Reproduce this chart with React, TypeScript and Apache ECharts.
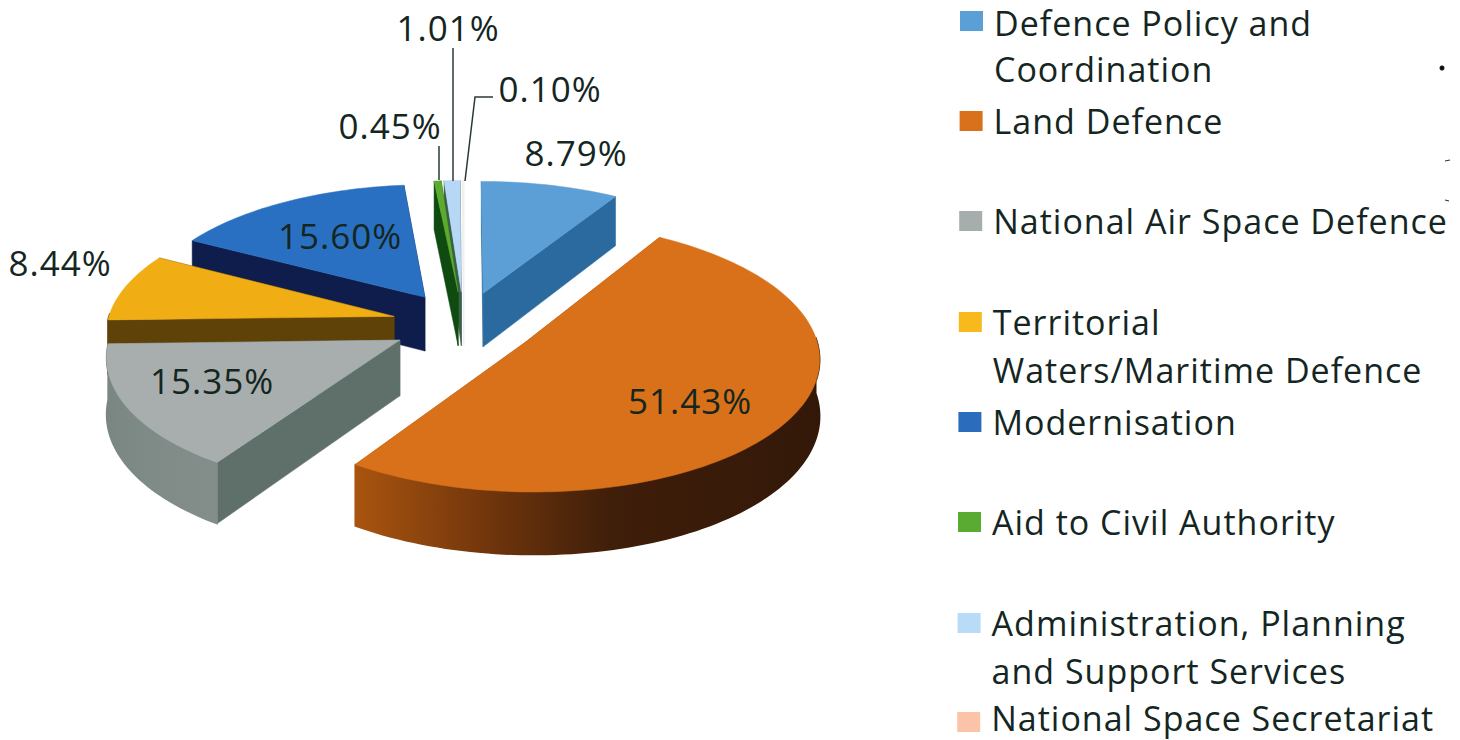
import React, { useEffect, useRef } from "react";
import * as echarts from "echarts";

const categories = [
  "Defence Policy and\nCoordination",
  "Land Defence",
  "National Air Space Defence",
  "Territorial\nWaters/Maritime Defence",
  "Modernisation",
  "Aid to Civil Authority",
  "Administration, Planning\nand Support Services",
  "National Space Secretariat",
];
// Printed labels, as they appear on the slices
const labels = ["8.79%", "51.43%", "15.35%", "8.44%", "15.60%", "0.45%", "1.01%", "0.10%"];
// Slice sizes as drawn in the picture (%)
const shares = [8.79, 50.9, 15.35, 8.44, 15.6, 0.45, 1.01, 0.1];

// Styles, by slice
const topColors = ["#5b9fd6", "#d9711a", "#a8aeae", "#f0ad14", "#2a70c2", "#5cab2e", "#b6d8f6", "#f6eeec"];
const wallColors = ["#2b6a9e", "#a9540f", "#5f6f6a", "#5e4208", "#0f1d4c", "#0f4a10", "#3c5f48", "#e6eef6"];
const rimStops: [string, string, string, string][] = [
  ["#2b6a9e", "#2b6a9e", "#2b6a9e", "#2b6a9e"],
  ["#a9540f", "#6e340c", "#3f1e0a", "#331808"],
  ["#7a8682", "#7e8a86", "#818c88", "#838e8b"],
  ["#5e4208", "#5e4208", "#5e4208", "#5e4208"],
  ["#0f1d4c", "#0f1d4c", "#0f1d4c", "#0f1d4c"],
  ["#0f4a10", "#0f4a10", "#0f4a10", "#0f4a10"],
  ["#3c5f48", "#3c5f48", "#3c5f48", "#3c5f48"],
  ["#e6eef6", "#e6eef6", "#e6eef6", "#e6eef6"],
];
const swatchColors = ["#5a9fd6", "#d9701c", "#a6adad", "#f8b91c", "#2c6cbc", "#5aab32", "#b8dbf8", "#fbc4a8"];

// Layout
const PIE = { cx: 464, cy: 324, a: 287, b: 130, p: 0.107, explode: 0.252, depth: 55 };
const FRONT_FROM = 88; // the outer wall faces the viewer between these bearings
const FRONT_TO = 272;
const labelPos: [number, number][] = [
  [576, 152], [690, 400], [212, 380], [60, 262], [340, 235], [390, 125], [448, 27], [550, 88],
];
const legendRowY = [21, 121, 221, 322, 422, 522, 623, 722];
const legendTextY = [23, 121, 221, 322, 422, 522, 623, 718];
const LEGEND_PITCH = 48;
const leaders: [number, number][][] = [
  [[439, 146], [439, 180]],
  [[453, 48], [453, 181]],
  [[493, 97], [475, 97], [465, 181]],
];
const specks: [number, number][][] = [
  [[1445, 161], [1450, 160]],
  [[1445, 200], [1449, 201]],
];
const TEXT = "#14261f";
const FONT = "'Open Sans', Lato, sans-serif";
const LEGEND_SIZE = 34;
const LABEL_SIZE = 35;

const total = shares.reduce((s, v) => s + v, 0);
const rad = (d: number) => (d * Math.PI) / 180;
const startAngles: number[] = [];
shares.reduce((acc, v, i) => {
  startAngles[i] = acc;
  return acc + (v / total) * 360;
}, 0);

const project = (X: number, Y: number, drop = 0): number[] => {
  const w = 1 - PIE.p * Y;
  return [PIE.cx + (PIE.a * X) / w, PIE.cy + (PIE.b * Y + drop) / w];
};

function sliceShapes(i: number, value: number) {
  const start = startAngles[i];
  const sweep = (value / total) * 360;
  const mid = rad(start + sweep / 2);
  const ox = PIE.explode * Math.sin(mid);
  const oy = -PIE.explode * Math.cos(mid);
  const n = Math.max(2, Math.ceil(sweep / 1.5));
  const rimTop: number[][] = [];
  const rimBot: number[][] = [];
  const frontTop: number[][] = [];
  const frontBot: number[][] = [];
  for (let k = 0; k <= n; k++) {
    const deg = start + (sweep * k) / n;
    const t = rad(deg);
    const X = ox + Math.sin(t);
    const Y = oy - Math.cos(t);
    const top = project(X, Y);
    const bot = project(X, Y, PIE.depth);
    rimTop.push(top);
    rimBot.push(bot);
    if (deg >= FRONT_FROM && deg <= FRONT_TO) {
      frontTop.push(top);
      frontBot.push(bot);
    }
  }
  const apexTop = project(ox, oy);
  const apexBot = project(ox, oy, PIE.depth);
  return { oy, rimTop, rimBot, frontTop, frontBot, apexTop, apexBot };
}

const order = shares
  .map((v, i) => ({ i, oy: sliceShapes(i, v).oy }))
  .sort((p, q) => p.oy - q.oy)
  .map((o) => o.i);

function renderItem(params: any, api: any) {
  const i = params.dataIndex;
  const { rimTop, rimBot, frontTop, frontBot, apexTop, apexBot } = sliceShapes(i, api.value(0));
  const base = order.indexOf(i) * 10;
  const last = rimTop.length - 1;
  const wall = { fill: wallColors[i], stroke: wallColors[i], lineWidth: 0.5 };
  const s = rimStops[i];
  const grad = new echarts.graphic.LinearGradient(0, 0, 1, 0, [
    { offset: 0, color: s[0] },
    { offset: 0.3, color: s[1] },
    { offset: 0.55, color: s[2] },
    { offset: 1, color: s[3] },
  ]);
  const children: any[] = [
    { type: "polygon", z2: base, shape: { points: [apexTop, rimTop[last], rimBot[last], apexBot] }, style: wall },
    { type: "polygon", z2: base + 1, shape: { points: [apexTop, rimTop[0], rimBot[0], apexBot] }, style: wall },
  ];
  if (frontTop.length > 1) {
    children.push({
      type: "polygon",
      z2: base + 2,
      shape: { points: [...frontTop, ...[...frontBot].reverse()] },
      style: { fill: grad, stroke: grad, lineWidth: 1.5 },
    });
  }
  children.push({
    type: "polygon",
    z2: base + 3,
    shape: { points: [apexTop, ...rimTop] },
    style: { fill: topColors[i], stroke: topColors[i], lineWidth: 0.5 },
  });
  return { type: "group", children };
}

export default function App() {
  const ref = useRef<HTMLDivElement>(null);
  useEffect(() => {
    const chart = echarts.init(ref.current!, null, { renderer: "svg" });
    const graphic: any[] = [];
    labels.forEach((label, i) => {
      graphic.push({
        type: "text",
        z: 20,
        x: labelPos[i][0],
        y: labelPos[i][1],
        style: {
          text: label,
          align: "center",
          verticalAlign: "middle",
          font: `${LABEL_SIZE}px ${FONT}`,
          fill: TEXT,
        },
      });
    });
    leaders.forEach((pts) => {
      graphic.push({
        type: "polyline",
        z: 15,
        shape: { points: pts },
        style: { stroke: "#2a3a30", lineWidth: 1.5, fill: "none" },
      });
    });
    categories.forEach((name, i) => {
      const drift = i * 0.4;
      graphic.push({
        type: "rect",
        z: 10,
        shape: { x: 960 - drift, y: legendRowY[i] - 10, width: 23, height: 20 },
        style: { fill: swatchColors[i] },
      });
      name.split("\n").forEach((line, k) => {
        graphic.push({
          type: "text",
          z: 10,
          x: 994 - drift,
          y: k === 0 ? legendTextY[i] : legendRowY[i] + k * LEGEND_PITCH,
          style: {
            text: line,
            align: "left",
            verticalAlign: "middle",
            font: `${LEGEND_SIZE}px ${FONT}`,
            fill: TEXT,
          },
        });
      });
    });
    graphic.push({ type: "circle", z: 10, shape: { cx: 1442, cy: 68, r: 2.5 }, style: { fill: "#111" } });
    specks.forEach((pts) => {
      graphic.push({
        type: "polyline",
        z: 10,
        shape: { points: pts },
        style: { stroke: "#333", lineWidth: 1.2, fill: "none" },
      });
    });
    chart.setOption({
      animation: false,
      backgroundColor: "#ffffff",
      graphic,
      series: [
        {
          type: "custom",
          coordinateSystem: "none",
          silent: true,
          renderItem,
          data: shares.map((v, i) => ({ name: categories[i], value: [v] })),
        },
      ],
    });
    return () => chart.dispose();
  }, []);
  return (
    <div
      ref={ref}
      style={{
        position: "absolute",
        left: 0,
        top: 0,
        width: 1460,
        height: 740,
        fontVariantLigatures: "none",
        letterSpacing: "1px",
      }}
    />
  );
}
